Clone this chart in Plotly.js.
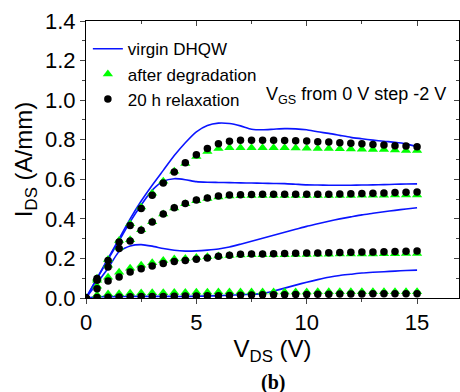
<!DOCTYPE html>
<html>
<head>
<meta charset="utf-8">
<script src="https://cdn.plot.ly/plotly-3.0.1.min.js"></script>
<style>html,body{margin:0;padding:0;background:#fff;}#chart{width:460px;height:392px;}</style>
</head>
<body>
<div id="chart"></div>
<script>
// Drain voltage (V)
const vds = [0,0.5,1,1.5,2,2.5,3,3.5,4,4.5,5,5.5,6,6.5,7,7.5,8,8.5,9,9.5,10,10.5,11,11.5,12,12.5,13,13.5,14,14.5,15];

// Virgin DHQW (lines), VGS = 0, -2, -4, -6 V
const virgin0 = [0,0.10,0.20,0.30,0.40,0.49,0.57,0.645,0.72,0.785,0.84,0.872,0.884,0.882,0.87,0.853,0.85,0.853,0.856,0.855,0.85,0.84,0.832,0.822,0.812,0.805,0.798,0.792,0.787,0.779,0.765];
const virgin2 = [0,0.098,0.195,0.29,0.385,0.47,0.545,0.59,0.603,0.598,0.588,0.585,0.584,0.583,0.582,0.581,0.58,0.579,0.578,0.575,0.572,0.571,0.57,0.57,0.57,0.571,0.572,0.573,0.575,0.576,0.577];
const virgin4 = [0,0.075,0.15,0.235,0.263,0.27,0.262,0.25,0.241,0.237,0.238,0.242,0.248,0.258,0.272,0.287,0.302,0.317,0.332,0.347,0.362,0.375,0.388,0.4,0.41,0.42,0.428,0.436,0.443,0.45,0.456];
const virgin6 = [0,0.006,0.007,0.007,0.008,0.008,0.008,0.008,0.008,0.008,0.009,0.01,0.012,0.014,0.017,0.019,0.022,0.035,0.05,0.065,0.08,0.093,0.105,0.114,0.12,0.126,0.13,0.133,0.136,0.139,0.141];

// After degradation (triangles)
const degr0 = [0,0.10,0.195,0.29,0.375,0.46,0.53,0.59,0.64,0.68,0.715,0.74,0.755,0.76,0.76,0.76,0.76,0.76,0.76,0.758,0.757,0.756,0.755,0.754,0.753,0.752,0.75,0.75,0.748,0.746,0.745];
const degr2 = [0,0.09,0.165,0.255,0.295,0.345,0.385,0.425,0.455,0.476,0.492,0.503,0.51,0.515,0.517,0.518,0.518,0.518,0.518,0.518,0.518,0.518,0.518,0.518,0.518,0.519,0.519,0.519,0.52,0.52,0.52];
const degr4 = [0,0.06,0.105,0.13,0.15,0.165,0.178,0.19,0.197,0.2,0.205,0.208,0.212,0.215,0.217,0.218,0.218,0.219,0.219,0.22,0.22,0.221,0.221,0.222,0.222,0.223,0.223,0.224,0.224,0.225,0.225];
const degr6 = [0,0.015,0.02,0.022,0.024,0.025,0.026,0.027,0.028,0.028,0.029,0.029,0.03,0.03,0.03,0.03,0.03,0.03,0.03,0.03,0.03,0.031,0.031,0.031,0.031,0.031,0.031,0.032,0.032,0.032,0.032];

// 20 h relaxation (circles)
const relax0 = [0,0.098,0.19,0.283,0.367,0.452,0.519,0.581,0.637,0.684,0.724,0.755,0.78,0.792,0.797,0.797,0.797,0.797,0.796,0.795,0.793,0.79,0.788,0.785,0.782,0.779,0.776,0.773,0.77,0.768,0.765];
const relax2 = [0,0.09,0.157,0.25,0.288,0.342,0.384,0.424,0.456,0.478,0.495,0.506,0.515,0.52,0.522,0.523,0.524,0.524,0.524,0.524,0.524,0.524,0.525,0.526,0.527,0.528,0.53,0.531,0.533,0.535,0.536];
const relax4 = [0,0.047,0.086,0.106,0.131,0.148,0.162,0.174,0.185,0.19,0.196,0.202,0.211,0.216,0.221,0.222,0.223,0.224,0.225,0.226,0.227,0.228,0.229,0.23,0.231,0.232,0.233,0.234,0.235,0.236,0.238];
const relax6 = [0,0.003,0.004,0.005,0.006,0.007,0.008,0.008,0.009,0.01,0.01,0.011,0.012,0.013,0.014,0.015,0.016,0.017,0.017,0.018,0.018,0.019,0.019,0.02,0.02,0.02,0.021,0.021,0.022,0.022,0.022];

const xTicks = [0,5,10,15];
const xTickText = ['0','5','10','15'];
const yTicks = [0,0.2,0.4,0.6,0.8,1.0,1.2,1.4];
const yTickText = ['0.0','0.2','0.4','0.6','0.8','1.0','1.2','1.4'];

const FONT = 'Liberation Sans, Arial, sans-serif';
const traces = [];
[virgin0, virgin2, virgin4, virgin6].forEach((ys, i) => {
  traces.push({x: vds, y: ys, type: 'scatter', mode: 'lines', name: 'virgin DHQW',
    legendgroup: 'v', showlegend: i === 0, line: {color: '#0a14ff', width: 1.6, shape: 'spline', smoothing: 0.6}, hoverinfo: 'skip'});
});
[degr0, degr2, degr4, degr6].forEach((ys, i) => {
  traces.push({x: vds, y: ys, type: 'scatter', mode: 'markers', name: 'after degradation',
    legendgroup: 'd', showlegend: i === 0, marker: {symbol: 'triangle-up', size: 9, color: '#00ff00'}, hoverinfo: 'skip'});
});
[relax0, relax2, relax4, relax6].forEach((ys, i) => {
  traces.push({x: vds, y: ys, type: 'scatter', mode: 'markers', name: '20 h relaxation',
    legendgroup: 'r', showlegend: i === 0, marker: {symbol: 'circle', size: 7.5, color: '#000000'}, hoverinfo: 'skip'});
});
// frame axes (top/right with inward ticks)
traces.push({x: [null], y: [null], xaxis: 'x2', yaxis: 'y2', type: 'scatter', mode: 'markers', showlegend: false, hoverinfo: 'skip'});

const layout = {
  width: 460, height: 392,
  margin: {l: 86, r: 1, t: 21, b: 94},
  paper_bgcolor: '#fff', plot_bgcolor: '#fff',
  font: {family: FONT, color: '#000'},
  showlegend: true,
  legend: {x: 0.005, y: 0.963, xanchor: 'left', yanchor: 'top', bgcolor: 'rgba(0,0,0,0)',
    font: {family: FONT, size: 17, color: '#000'}, tracegroupgap: 0, itemwidth: 30},
  xaxis: {range: [0, 16.9], tickvals: xTicks, ticktext: xTickText, ticks: 'outside', ticklen: 5, tickwidth: 1,
    minor: {dtick: 2.5, tick0: 0, ticks: 'outside', ticklen: 3, tickwidth: 1},
    showline: true, linecolor: '#000', linewidth: 1, showgrid: false, zeroline: false,
    tickfont: {family: FONT, size: 22},
    title: {text: 'V<sub>DS</sub> (V)', font: {family: FONT, size: 24}, standoff: 4}},
  yaxis: {range: [0, 1.4], tickvals: yTicks, ticktext: yTickText, ticks: 'outside', ticklen: 5, tickwidth: 1,
    minor: {dtick: 0.1, tick0: 0, ticks: 'outside', ticklen: 3, tickwidth: 1},
    showline: true, linecolor: '#000', linewidth: 1, showgrid: false, zeroline: false,
    tickfont: {family: FONT, size: 22},
    title: {text: 'I<sub>DS</sub> (A/mm)', font: {family: FONT, size: 24}, standoff: 5}},
  xaxis2: {overlaying: 'x', side: 'top', matches: 'x', range: [0, 16.9], tickvals: xTicks, ticks: 'inside', ticklen: 5,
    minor: {dtick: 2.5, tick0: 0, ticks: 'inside', ticklen: 3}, showticklabels: false,
    showline: true, linecolor: '#000', linewidth: 1, showgrid: false, zeroline: false},
  yaxis2: {overlaying: 'y', side: 'right', matches: 'y', range: [0, 1.4], tickvals: yTicks, ticks: 'inside', ticklen: 5,
    minor: {dtick: 0.1, tick0: 0, ticks: 'inside', ticklen: 3}, showticklabels: false,
    showline: true, linecolor: '#000', linewidth: 1, showgrid: false, zeroline: false},
  annotations: [
    {xref: 'paper', yref: 'paper', x: 0.478, y: 0.732, xanchor: 'left', yanchor: 'middle', showarrow: false,
      text: 'V<sub>GS</sub> from 0 V step -2 V', font: {family: FONT, size: 18, color: '#000'}},
    {xref: 'paper', yref: 'paper', x: 0.5, y: -0.304, xanchor: 'center', yanchor: 'middle', showarrow: false,
      text: '<b>(b)</b>', font: {family: 'Liberation Serif, Times New Roman, serif', size: 20, color: '#000'}}
  ]
};
Plotly.newPlot('chart', traces, layout, {displayModeBar: false, staticPlot: true});
</script>
</body>
</html>
